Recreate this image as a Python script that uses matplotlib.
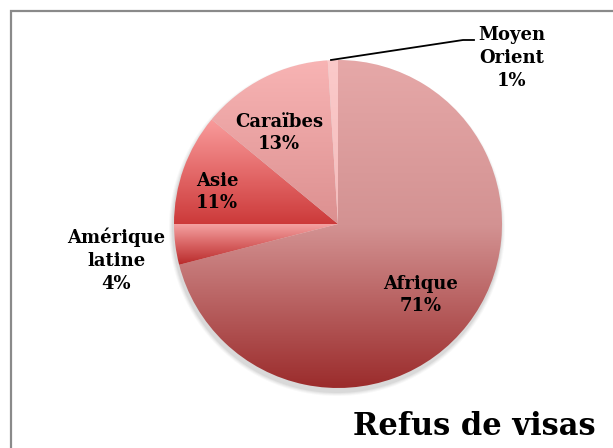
import numpy as np
import matplotlib
matplotlib.use("Agg")
import matplotlib.pyplot as plt
from matplotlib.colors import LinearSegmentedColormap
from matplotlib.patches import Circle

# data
regions = ["Afrique", "Amérique\nlatine", "Asie", "Caraïbes", "Moyen\nOrient"]
shares = [71, 4, 11, 13, 1]
# gradient stops (top, middle, bottom) for each slice
top_colors = ["#e6a8a8", "#f4a2a2", "#f99c9c", "#f8b4b4", "#fbcaca"]
mid_colors = ["#d39292", "#d86262", "#e46a6a", "#eaa2a2", "#f8c3c3"]
bottom_colors = ["#9a2a2a", "#b82a2a", "#cc3a3a", "#dc9090", "#f6bcbc"]
title = "Refus de visas"

W, H = 613, 448
fig = plt.figure(figsize=(W / 100, H / 100), dpi=100)
ax = fig.add_axes([0, 0, 1, 1])

cx, cy, R = 338, H - 224, 164

# soft shadow under the pie
for k, a in enumerate([0.04, 0.05, 0.06, 0.08]):
    ax.add_patch(Circle((cx - 1, cy - 4), R + 4 - k, color="#555555", alpha=a, lw=0, zorder=0))

wedges, _ = ax.pie(shares, startangle=90, counterclock=False, center=(cx, cy), radius=R,
                   frame=True, wedgeprops=dict(linewidth=0))

for w, c0, cm, c1 in zip(wedges, top_colors, mid_colors, bottom_colors):
    verts = w.get_path().vertices
    x0, x1 = verts[:, 0].min(), verts[:, 0].max()
    y0, y1 = verts[:, 1].min(), verts[:, 1].max()
    cmap = LinearSegmentedColormap.from_list("g", [c1, cm, c0])
    grad = np.linspace(0, 1, 256)[:, None]
    im = ax.imshow(grad, cmap=cmap, extent=[x0, x1, y0, y1], origin="lower",
                   aspect="auto", zorder=2, interpolation="bilinear")
    im.set_clip_path(w)
    w.set_facecolor("none")

ax.set_xlim(0, W)
ax.set_ylim(0, H)
ax.axis("off")

lab = dict(fontsize=13, fontweight="bold", family="DejaVu Serif", ha="center",
           va="center", linespacing=1.35, zorder=5)
label_pos = [(421, 295), (116, 260), (217, 192), (279, 133), (512, 58)]
for name, v, (x, y) in zip(regions, shares, label_pos):
    ax.text(x, H - y, f"{name}\n{v}%", **lab)

# leader line for Moyen Orient
ax.plot([331, 463, 474], [H - 60, H - 40, H - 40], color="black", lw=1.3, zorder=4)

ax.text(474, H - 426, title, fontsize=22, fontweight="bold", family="DejaVu Serif",
        ha="center", va="center", zorder=5)

# chart frame
ax.plot([10.5, 10.5, W + 5], [-5, H - 10.5, H - 10.5], color="#8a8a8a", lw=1.6,
        solid_joinstyle="miter", zorder=6)

fig.savefig("out.png", dpi=100)
